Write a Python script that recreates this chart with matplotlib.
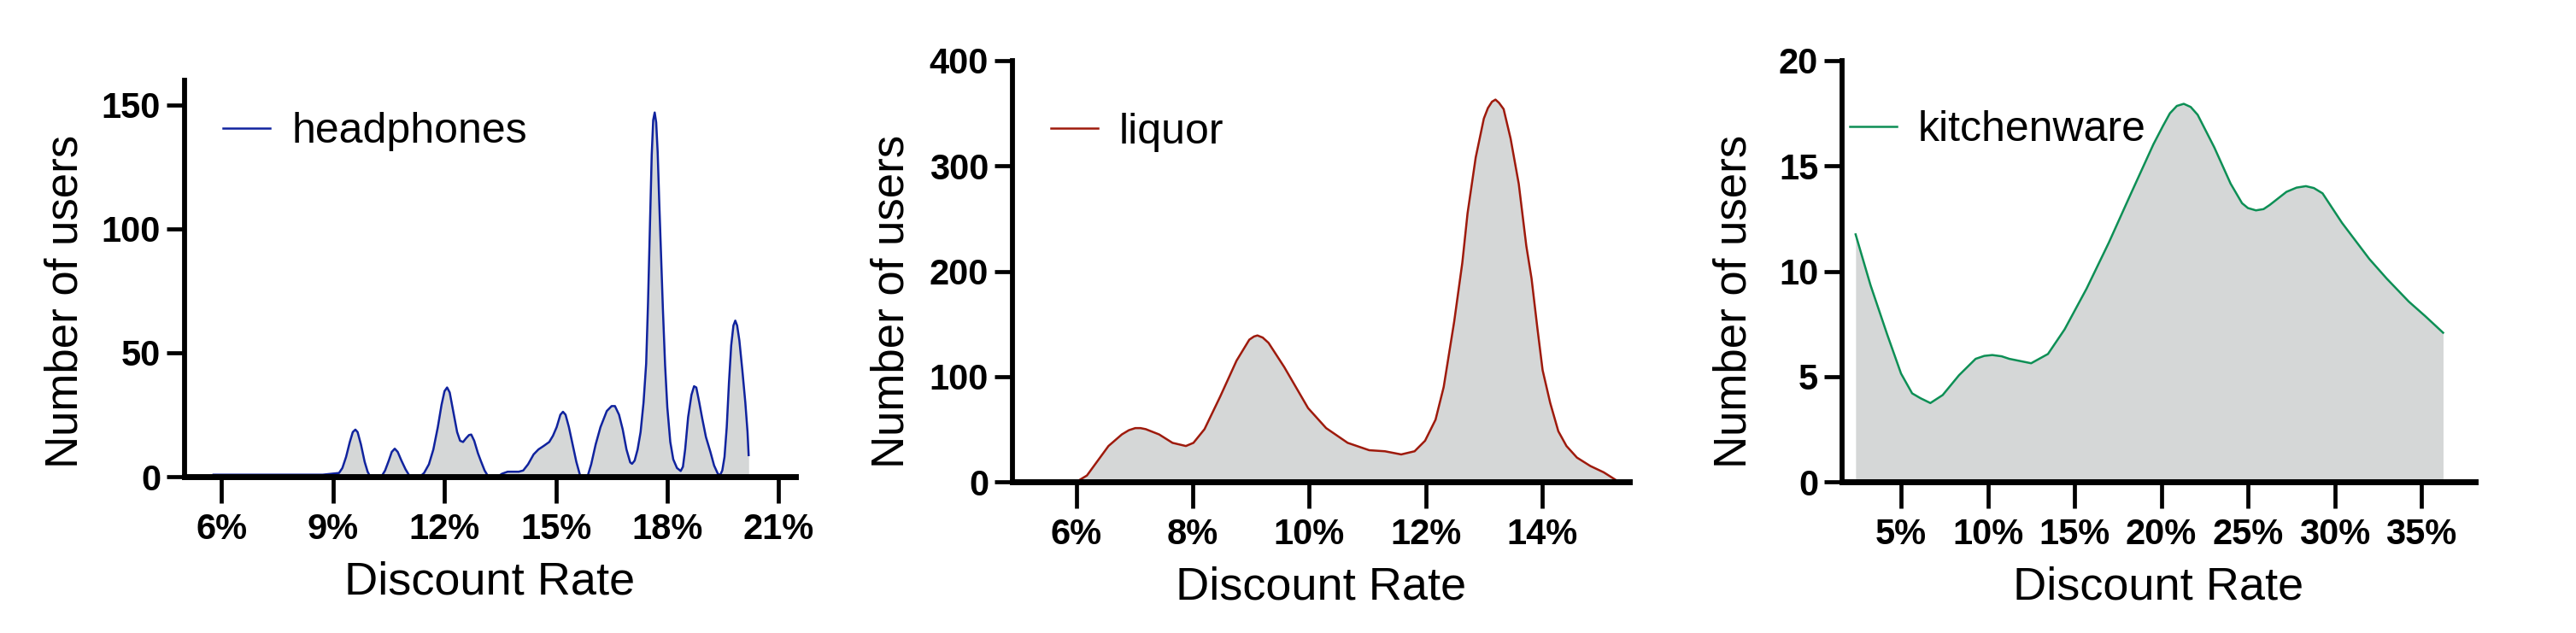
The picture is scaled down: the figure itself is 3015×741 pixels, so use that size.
import matplotlib
matplotlib.use("Agg")
import matplotlib.pyplot as plt
from matplotlib.font_manager import FontProperties

# headphones
headphones_rate = [5.78, 8.72, 9.16, 9.25, 9.35, 9.45, 9.53, 9.6, 9.66, 9.75, 9.85, 9.93, 10.0,
                   10.3, 10.4, 10.5, 10.58, 10.66, 10.74, 10.84, 10.95, 11.07,
                   11.34, 11.45, 11.58, 11.7, 11.82, 11.92, 12.0, 12.07, 12.14, 12.24, 12.34, 12.42,
                   12.5, 12.58, 12.66, 12.72, 12.8, 12.9, 12.98, 13.08, 13.18,
                   13.43, 13.55, 13.7, 14.0, 14.12, 14.25, 14.4, 14.53, 14.68, 14.82, 14.92, 15.02,
                   15.12, 15.19, 15.26, 15.35, 15.45, 15.55, 15.66,
                   15.85, 15.95, 16.07, 16.2, 16.37, 16.5, 16.59, 16.7, 16.8, 16.9, 17.0, 17.05,
                   17.12, 17.2, 17.28, 17.36, 17.43, 17.48, 17.53, 17.58, 17.62, 17.66, 17.7, 17.74,
                   17.78, 17.83, 17.88, 17.94, 18.0, 18.08, 18.16, 18.26, 18.36, 18.42, 18.48, 18.56,
                   18.65, 18.72, 18.78, 18.86, 18.94, 19.04, 19.16, 19.26, 19.36, 19.42, 19.48, 19.54,
                   19.6, 19.66, 19.72, 19.78, 19.83, 19.88, 19.94, 20.02, 20.1, 20.16, 20.19]
headphones_users = [0.8, 0.8, 1.5, 3.5, 8, 14, 18, 19, 18, 13, 6, 2, 0,
                    0, 2.5, 6.5, 10, 11.3, 10, 6.5, 3, 0,
                    0, 1.5, 5, 11, 20, 29, 34.5, 36, 34, 26, 18, 14.5,
                    14, 15.5, 16.8, 17, 14.5, 9.5, 6.3, 2.5, 0,
                    0, 1.2, 2, 2, 2.5, 5, 9, 11, 12.5, 14, 16.5, 20,
                    25, 26.2, 25, 20, 13, 6, 0,
                    0, 5, 13, 20, 26.5, 28.5, 28.5, 25, 19, 11, 5.8, 5.2,
                    6.5, 11, 18, 30, 45.6, 70, 100, 130, 144, 147, 143, 131,
                    112, 90, 68, 45, 28, 14, 7, 3.5, 2.3, 4, 11, 24,
                    33, 36.5, 36, 30, 23.5, 16, 10, 4.5, 1.2, 0.6, 2.5, 8,
                    20, 38, 53, 61, 63, 61, 55, 43, 30, 18, 8.7]

# liquor
liquor_rate = [6.0, 6.18, 6.55, 6.78, 6.9, 7.01, 7.1, 7.19, 7.42, 7.65, 7.88, 8.01, 8.2, 8.47, 8.75,
               8.97, 9.05, 9.11, 9.2, 9.3, 9.57, 9.98, 10.29, 10.66, 11.03, 11.3, 11.58, 11.81, 11.99,
               12.17, 12.31, 12.4, 12.49, 12.63, 12.72, 12.86, 13.0, 13.07, 13.14, 13.2, 13.26, 13.34,
               13.46, 13.6, 13.73, 13.82, 13.92, 14.01, 14.14, 14.28, 14.42, 14.6, 14.83, 15.06, 15.26]
liquor_users = [0, 6, 34, 45, 49, 51, 51, 50, 45, 37, 34, 37, 50, 81, 115,
                135, 138, 139, 137, 132, 109, 70, 51, 37, 30, 29, 26, 29, 39,
                59, 90, 121, 152, 208, 255, 308, 345, 355, 361, 363, 360, 354,
                326, 283, 224, 193, 146, 106, 75, 48, 34, 23, 15, 9, 2]

# kitchenware
kitchen_rate = [2.38, 3.24, 4.2, 5.0, 5.64, 6.12, 6.69, 7.4, 8.34, 9.3, 9.8, 10.26, 10.8, 11.24, 12.5,
                13.47, 14.43, 15.7, 16.98, 18.26, 19.55, 20.1, 20.5, 20.9, 21.3, 21.7, 22.1, 23.06,
                24.0, 24.66, 25.0, 25.46, 25.9, 26.26, 27.22, 27.8, 28.34, 28.8, 29.3, 30.42, 32.0,
                33.0, 34.27, 35.23, 36.25]
kitchen_users = [11.75, 9.34, 7.0, 5.14, 4.2, 3.97, 3.74, 4.12, 5.06, 5.84, 5.98, 6.02, 5.96, 5.84, 5.63,
                 6.07, 7.24, 9.18, 11.36, 13.7, 16.03, 16.9, 17.5, 17.85, 17.95, 17.8, 17.43, 15.88,
                 14.16, 13.23, 13.0, 12.89, 12.95, 13.15, 13.77, 13.97, 14.04, 13.95, 13.7, 12.3, 10.58,
                 9.65, 8.56, 7.86, 7.08]

panels = [
    dict(name="headphones", x=headphones_rate, y=headphones_users, color="#10239e",
         xticks=[6, 9, 12, 15, 18, 21], yticks=[0, 50, 100, 150],
         xlim=(5.0, 21.45), ylim=(0, 160), box=(216, 931, 94, 558), leg=(0.063, 0.87), ylab_x=77),
    dict(name="liquor", x=liquor_rate, y=liquor_users, color="#9e1a0c",
         xticks=[6, 8, 10, 12, 14], yticks=[0, 100, 200, 300, 400],
         xlim=(4.9, 15.5), ylim=(0, 400), box=(1185, 1907, 71, 564), leg=(0.062, 0.83), ylab_x=1044),
    dict(name="kitchenware", x=kitchen_rate, y=kitchen_users, color="#0d8f55",
         xticks=[5, 10, 15, 20, 25, 30, 35], yticks=[0, 5, 10, 15, 20],
         xlim=(1.6, 38.1), ylim=(0, 20), box=(2156, 2897, 71, 564), leg=(0.012, 0.835), ylab_x=2029),
]

W, H = 3015, 741
fig = plt.figure(figsize=(W / 100, H / 100), dpi=100)
tick_font = FontProperties(family="Liberation Sans", weight="bold", size=30)
label_font = "Liberation Sans"

for p in panels:
    left, right, top, bottom = p["box"]
    ax = fig.add_axes([left / W, 1 - bottom / H, (right - left) / W, (bottom - top) / H])
    ax.fill_between(p["x"], p["y"], 0, color="#d5d7d7", lw=0)
    ax.plot(p["x"], p["y"], color=p["color"], lw=1.8, label=p["name"])
    ax.set_xlim(*p["xlim"])
    ax.set_ylim(*p["ylim"])
    ax.set_xticks(p["xticks"])
    ax.set_xticklabels([f"{v}%" for v in p["xticks"]])
    ax.set_yticks(p["yticks"])
    for lab in ax.get_xticklabels() + ax.get_yticklabels():
        lab.set_fontproperties(tick_font)
    for s in ["top", "right"]:
        ax.spines[s].set_visible(False)
    ax.spines["left"].set_linewidth(4.2)
    ax.spines["bottom"].set_linewidth(5.0)
    ax.tick_params(axis="y", length=15, width=3.4, pad=5)
    ax.tick_params(axis="x", length=22, width=3.4, pad=8)
    ax.set_xlabel("Discount Rate", fontsize=39, family=label_font, labelpad=12)
    fig.text(p["ylab_x"] / W, 1 - 353 / H, "Number of users", rotation=90,
             ha="center", va="center", fontsize=38, family=label_font)
    ax.legend(loc="center left", bbox_to_anchor=p["leg"], frameon=False,
              prop={"family": label_font, "size": 36}, handlelength=1.1,
              handletextpad=0.5, borderpad=0, borderaxespad=0)

fig.savefig("out.png", dpi=100)
